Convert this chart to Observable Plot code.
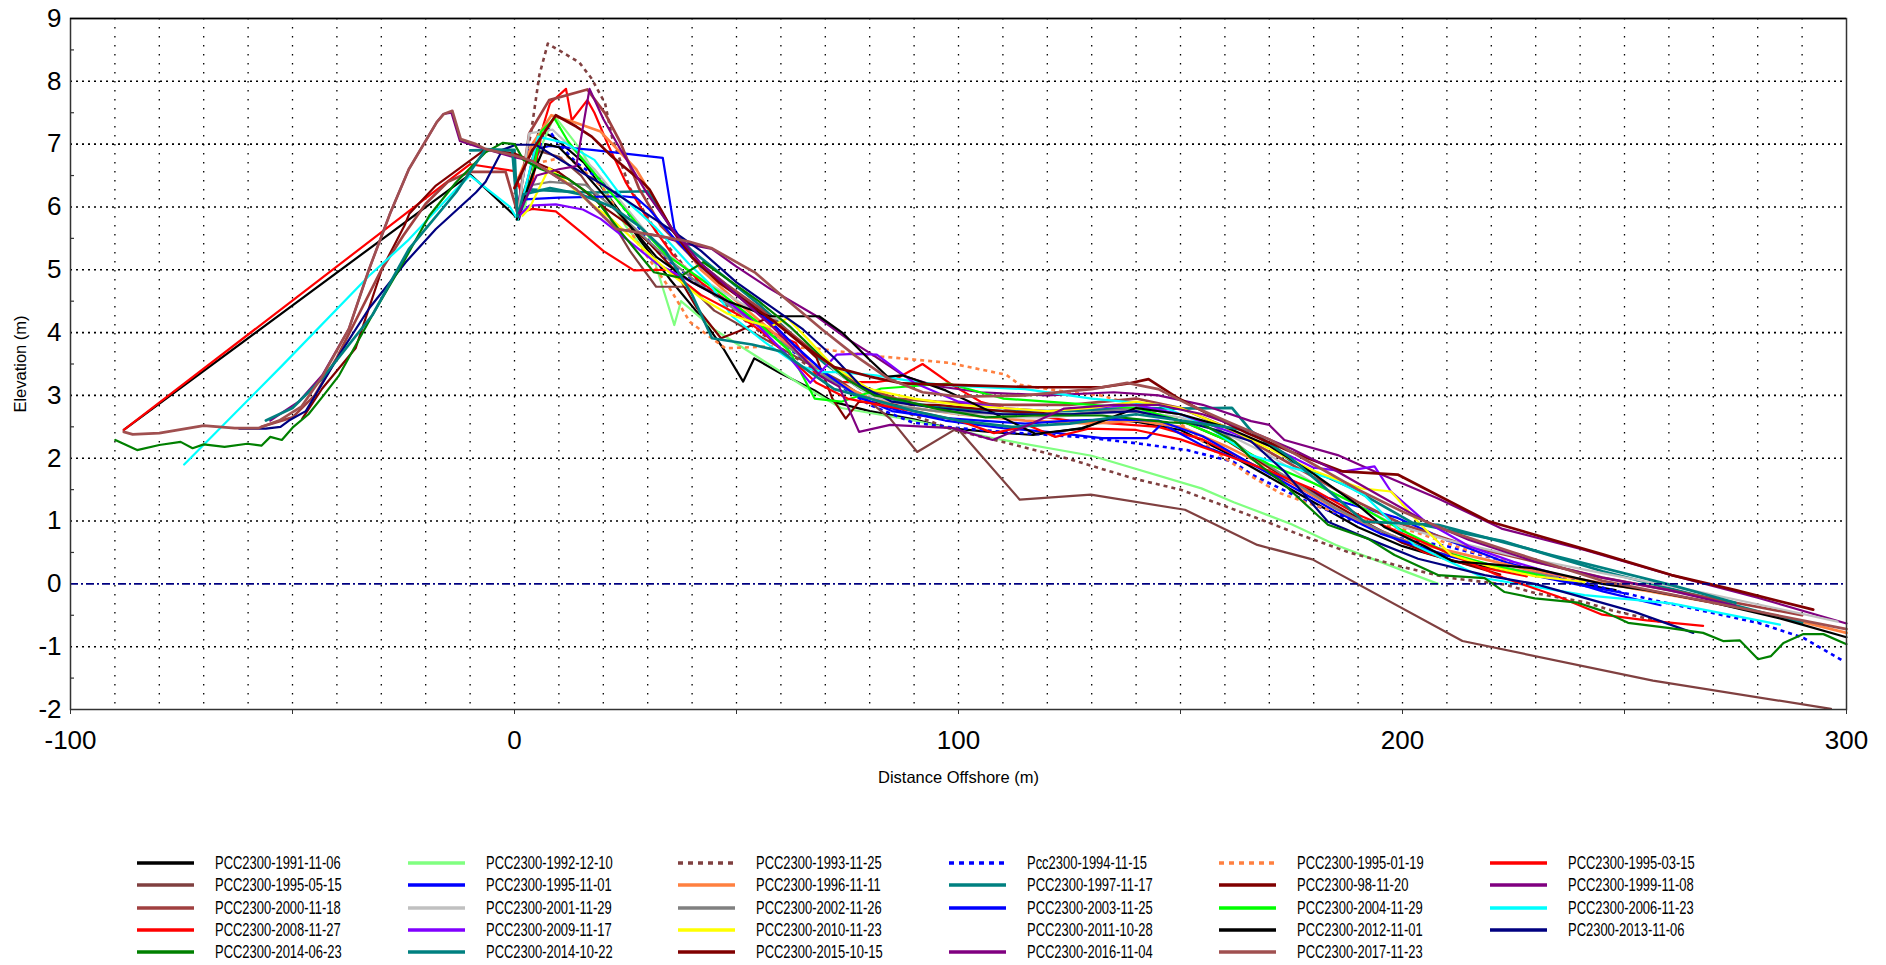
<!DOCTYPE html>
<html>
<head>
<meta charset="utf-8">
<script src="https://cdn.jsdelivr.net/npm/d3@7"></script>
<script src="https://cdn.jsdelivr.net/npm/@observablehq/plot@0.6"></script>
<style>
  body { margin: 0; background: #fff; font-family: "Liberation Sans", Arial, sans-serif; }
  #chart { position: absolute; left: 0; top: 0; }
  #legend { position: absolute; left: 137px; top: 852px; display: grid; grid-template-columns: repeat(6, 270.6px); grid-auto-rows: 22.25px; }
  .item { display: flex; align-items: center; font-size: 18.5px; color: #000; white-space: nowrap; }
  .item svg { margin-right: 21px; flex: none; }
  .item span { display: inline-block; transform: scaleX(0.70); transform-origin: left center; }
</style>
</head>
<body>
<div id="chart"></div>
<div id="legend"></div>
<script>
// ---------------- DATA ----------------
const seriesNames = [
  "PCC2300-1991-11-06", "PCC2300-1992-12-10", "PCC2300-1993-11-25", "Pcc2300-1994-11-15", "PCC2300-1995-01-19", "PCC2300-1995-03-15",
  "PCC2300-1995-05-15", "PCC2300-1995-11-01", "PCC2300-1996-11-11", "PCC2300-1997-11-17", "PCC2300-98-11-20", "PCC2300-1999-11-08",
  "PCC2300-2000-11-18", "PCC2300-2001-11-29", "PCC2300-2002-11-26", "PCC2300-2003-11-25", "PCC2300-2004-11-29", "PCC2300-2006-11-23",
  "PCC2300-2008-11-27", "PCC2300-2009-11-17", "PCC2300-2010-11-23", "PCC2300-2011-10-28", "PCC2300-2012-11-01", "PC2300-2013-11-06",
  "PCC2300-2014-06-23", "PCC2300-2014-10-22", "PCC2300-2015-10-15", "PCC2300-2016-11-04", "PCC2300-2017-11-23"
];

const xTickLabels = [-100, 0, 100, 200, 300];
const xTickMarks = [-100, -50, 0, 50, 100, 150, 200, 250, 300];
const yTickLabels = [-2, -1, 0, 1, 2, 3, 4, 5, 6, 7, 8, 9];
const yMinorTicks = [-1.5, -0.5, 0.5, 1.5, 2.5, 3.5, 4.5, 5.5, 6.5, 7.5, 8.5];
const xGridLines = [-90, -80, -70, -60, -50, -40, -30, -20, -10, 0, 10, 20, 30, 40, 50, 60, 70, 80, 90, 100, 110, 120, 130, 140, 150, 160, 170, 180, 190, 200, 210, 220, 230, 240, 250, 260, 270, 280, 290];
const yGridLines = [-1, 1, 2, 3, 4, 5, 6, 7, 8];
const datumLevel = [0];

// profiles: [distance offshore (m), elevation (m)]
const p1991_11_06 = [[-88,2.45],[-10,6.52],[1,5.8],[5.5,7.22],[9,7.1],[15.7,6.7],[20,6.28],[24,5.9],[28.5,5.45],[35,4.85],[42,4.25],[47,3.75],[51.5,3.22],[54,3.59],[60,3.35],[67.6,3.08],[71.6,2.9],[80,2.75],[90,2.62],[97.7,2.48],[107,2.42],[116.8,2.37],[127.8,2.48],[134,2.63],[140,2.58],[150,2.45],[160,2.1],[170,1.7],[180,1.3],[190,0.9],[200,0.6],[212,0.35],[225,0.2],[240,0.0],[248,-0.1]];
const p1992_12_10 = [[2,5.9],[5,6.8],[9,7.45],[15,6.9],[20,6.3],[25,5.7],[31.7,5.1],[36,4.12],[37.5,4.5],[45,4.05],[55,3.6],[65,3.15],[73.6,2.8],[90,2.6],[107.7,2.32],[130,2.04],[154.7,1.52],[162,1.3],[175,0.95],[185,0.62],[195,0.35],[208,0.0]];
const p1993_11_25 = [[0,6.2],[2,6.6],[3.7,7.17],[5.6,8.1],[7.5,8.6],[11.3,8.44],[14.6,8.3],[17.4,8.04],[20.4,7.65],[22,7.1],[26,6.3],[32,5.6],[40,4.9],[50,4.3],[60,3.75],[70,3.3],[80,2.95],[90,2.68],[99.4,2.44],[110,2.26],[124.8,1.99],[139.8,1.67],[150,1.5],[166,1.08],[177,0.78],[188,0.5],[200,0.27],[210,0.1],[223,-0.01],[230,-0.15],[241,-0.29],[247,-0.42],[258,-0.6]];
const p1994_11_15 = [[1,6.0],[4,6.5],[7,7.3],[10,7.0],[14,6.7],[20,6.4],[25,5.95],[32,5.3],[40,4.85],[50,4.4],[60,3.85],[70,3.3],[80,2.85],[89.6,2.57],[97,2.5],[110,2.42],[129,2.33],[141,2.23],[151.5,2.13],[162,1.94],[166,1.74],[180,1.26],[199,0.73],[210,0.6],[220.3,0.41],[232,0.2],[245,-0.06],[256,-0.25],[267.7,-0.43],[280,-0.62],[290.3,-0.86],[299.3,-1.23]];
const p1995_01_19 = [[1,6.1],[5,6.7],[12,6.8],[20,6.3],[28,5.4],[35,4.7],[39.5,4.17],[47.5,3.75],[57.5,3.78],[67.6,3.75],[82.6,3.62],[97.7,3.52],[110.7,3.33],[113.8,3.17],[125,3.05],[132,3.0],[142,2.8],[150,2.55],[158,2.1],[166,1.71],[172.6,1.44],[181,1.23],[192,1.0],[202.7,0.83],[214,0.55],[226,0.3],[238,0.05]];
const p1995_03_15 = [[-88,2.45],[-10,6.68],[0,6.57],[2,6.1],[4,6.4],[6.5,7.3],[8,7.65],[11.6,7.88],[12.9,7.38],[16.4,7.7],[18,7.5],[21,7.0],[25,6.4],[30,5.8],[36,5.2],[42,4.8],[50,4.4],[58,4.0],[63.3,3.84],[67.8,3.34],[73.1,3.21],[81.4,3.21],[85.9,3.26],[91.9,3.5],[98.7,3.16],[105,2.9],[115,2.7],[125,2.6],[135,2.55],[145,2.5],[155,2.3],[165,1.95],[175,1.6],[185,1.2],[195,0.85],[205,0.5],[215,0.3],[228,0.12]];
const p1995_05_15 = [[1,6.0],[5,6.9],[10,6.8],[15,6.5],[20,6.0],[26,5.3],[31.9,4.73],[39.5,4.73],[45,4.35],[55,3.95],[65,3.55],[73.6,3.22],[80,2.9],[84.6,2.63],[90.7,2.1],[99.7,2.48],[113.8,1.34],[129.8,1.42],[151,1.18],[167.3,0.62],[179.7,0.39],[213.5,-0.91],[256.4,-1.54],[296.5,-1.99]];
const p1995_11_01 = [[1,6.1],[3,6.9],[8,6.97],[17.4,6.91],[33.4,6.78],[36,5.65],[40,5.2],[48,4.75],[56,4.3],[63,3.8],[70,3.35],[78,2.95],[87,2.75],[97,2.6],[110,2.48],[120,2.42],[132.3,2.32],[142.5,2.32],[145.8,2.55],[155,2.2],[166.1,1.9],[183.1,1.37],[198.9,1.05],[210,0.7],[222.6,0.36],[235,0.1],[245.1,-0.12],[258.1,-0.34]];
const p1996_11_11 = [[0,6.3],[4,7.0],[8.3,7.46],[13,7.36],[19.4,7.2],[27.4,6.6],[35.4,5.65],[42,5.0],[50,4.5],[60,3.9],[70,3.3],[80,2.95],[90,2.8],[100,2.7],[115,2.6],[130,2.55],[140,2.6],[150,2.5],[160,2.2],[170,1.85],[180,1.4],[190,1.0],[200,0.7],[215,0.45],[230,0.2],[250,-0.05],[270,-0.3],[285,-0.52],[300,-0.78]];
const p1997_11_17 = [[-10,6.9],[0,6.91],[0.7,5.8],[3.3,6.28],[10,6.25],[17.4,6.23],[29.9,6.25],[35.9,5.6],[40,5.3],[48,4.85],[55,4.45],[62,4.0],[70,3.5],[78,3.1],[87,2.9],[97,2.8],[110,2.75],[125,2.75],[140,2.8],[149.2,2.79],[161.6,2.8],[166.1,2.42],[175,1.95],[188.7,1.52],[202.3,0.97],[222.6,0.68],[245.1,0.2],[270,-0.25],[290,-0.62]];
const p1998_11_20 = [[-47.8,2.63],[-43.3,3.11],[-35.8,3.75],[-29.8,5.02],[-24.8,5.7],[-23.7,5.89],[-17.7,6.34],[-6.5,6.92],[0,6.85],[5,6.7],[10,6.55],[15,6.3],[20,6.0],[25,5.75],[30,5.45],[36,5.0],[41,4.4],[46.5,3.91],[50.5,4.02],[57.5,4.25],[62,4.0],[68,3.6],[71.6,2.95],[74.6,2.63],[77.6,2.9],[86,2.85],[95,2.85],[110,2.75],[125,2.7],[140,2.75],[150,2.6],[160,2.3],[170,1.85],[180,1.45],[190,1.05],[200,0.65],[210,0.4],[222,0.15]];
const p1999_11_08 = [[-55,2.6],[-48.6,2.9],[-43.3,3.32],[-37.3,4.06],[-32.8,5.0],[-28,5.9],[-23.8,6.6],[-17.5,7.35],[-16,7.48],[-14.2,7.5],[-12.3,7.05],[-8,6.95],[-0.5,6.8],[4,6.73],[13.9,6.28],[22.9,5.65],[27.4,5.6],[32.4,5.54],[39.5,5.4],[44.5,5.33],[50,5.05],[57.5,4.7],[67.6,4.28],[75,3.9],[80.6,3.65],[88,3.3],[95,3.15],[105,3.05],[120,3.0],[135,3.05],[145,3.0],[155,2.85],[165.9,2.59],[170,2.53],[173.4,2.29],[185.4,2.05],[195,1.75],[208,1.36],[222.3,0.88],[241,0.54],[260.6,0.14],[280,-0.22],[300,-0.63]];
const p2000_11_18 = [[-57,2.5],[-50,2.65],[-45,3.0],[-40,3.6],[-35,4.3],[-30,5.0],[-25,5.55],[-20,6.05],[-15,6.4],[-10,6.56],[-2,6.56],[0.7,5.9],[3.3,7.17],[7.8,7.7],[16.4,7.87],[20.4,7.49],[23.9,7.02],[28,6.3],[33,5.7],[40,5.2],[48,4.75],[55,4.4],[62,4.0],[70,3.55],[78,3.15],[86,2.95],[95,2.9],[110,2.85],[125,2.85],[140,2.95],[150,2.8],[160,2.5],[170,2.1],[180,1.7],[190,1.3],[200,0.95],[215,0.6],[230,0.35],[245,0.1],[260,-0.1],[275,-0.3],[290,-0.5]];
const p2001_11_29 = [[1,6.0],[3.3,7.17],[8.6,7.23],[12,7.0],[18,6.6],[25,6.0],[32,5.4],[40,4.95],[48,4.6],[55,4.3],[60,4.2],[65,3.9],[72,3.4],[80,3.0],[90,2.8],[100,2.7],[110,2.65],[120,2.65],[130,2.7],[140,2.75],[150,2.65],[160,2.4],[170,2.05],[180,1.6],[190,1.25],[198,0.95],[210,0.7],[225,0.45],[245,0.17],[265,-0.1],[285,-0.4],[298,-0.6]];
const p2002_11_26 = [[1,5.9],[4,6.35],[8,6.4],[16,6.35],[22,6.0],[28,5.6],[35,5.15],[42,4.75],[50,4.35],[57,4.0],[63,3.7],[70,3.3],[76,3.05],[84,2.85],[95,2.75],[110,2.7],[125,2.7],[140,2.8],[150,2.7],[158,2.5],[165,2.1],[175,1.65],[185,1.2],[195,0.85],[205,0.55],[220,0.3],[235,0.1]];
const p2003_11_25 = [[1,5.85],[2.3,6.12],[10,6.15],[24.4,6.17],[27.4,6.15],[30.4,5.96],[36,5.5],[42,5.05],[50,4.6],[57,4.2],[63,3.8],[70,3.35],[77,3.0],[85,2.75],[95,2.65],[105,2.6],[115,2.55],[125,2.6],[135,2.62],[145,2.6],[155,2.35],[165,1.95],[175,1.55],[185,1.15],[195,0.8],[210,0.45],[225,0.2],[240,-0.02],[250,-0.15]];
const p2004_11_29 = [[0.5,5.85],[4,6.5],[6,7.2],[9,7.41],[12,7.05],[16,6.7],[22,6.2],[28,5.7],[34,5.25],[40,4.95],[47,4.6],[55,4.15],[62,3.7],[67.6,2.95],[73.6,2.9],[82.6,3.11],[97.7,3.19],[110,2.95],[120,2.9],[130,2.85],[140,2.8],[150,2.6],[160,2.3],[170,1.9],[180,1.6],[190,1.25],[200,0.85],[210,0.5],[220,0.3],[232,0.12]];
const p2006_11_23 = [[-74.4,1.9],[-52.4,3.47],[-32.8,4.9],[-23.8,5.48],[-13.3,6.27],[-10,6.5],[-1,6.0],[0.7,5.8],[5.3,7.12],[11.3,7.02],[18,6.75],[24.2,6.16],[31.7,5.68],[39.2,5.1],[43.8,4.79],[49,4.26],[56.5,3.84],[64.1,3.47],[69.3,3.37],[73.1,3.37],[81.4,3.32],[91.9,3.2],[100,3.15],[115,3.1],[130,2.95],[145,2.85],[155,2.55],[165.9,2.05],[175,1.85],[183.9,1.68],[191.4,1.41],[202.7,0.62],[218.5,0.09],[241,-0.18],[260.6,-0.31],[285,-0.65]];
const p2008_11_27 = [[1,5.9],[4,5.97],[9.3,5.93],[15,5.6],[20,5.3],[26.9,4.99],[34.7,5.0],[37,4.87],[42,4.6],[50,4.3],[56,4.0],[62,3.6],[68,3.2],[75,2.95],[82,2.85],[90,2.75],[100,2.6],[108,2.4],[115.8,2.52],[121.8,2.34],[129.3,2.47],[140,2.45],[150,2.3],[160,2.05],[170,1.8],[180,1.5],[190,1.1],[200,0.8],[210,0.5],[222.6,0.1],[235,-0.2],[245,-0.49],[255,-0.58],[267.7,-0.67]];
const p2009_11_17 = [[1,5.85],[3.3,6.02],[9.3,6.04],[15.4,5.96],[19.4,5.81],[25,5.5],[32,5.1],[40,4.8],[48,4.5],[55,4.1],[62,3.6],[66.6,3.2],[72.6,3.65],[76.8,3.66],[81.6,3.65],[84.6,3.49],[90,3.2],[100,2.9],[110,2.8],[120,2.75],[130,2.8],[140,2.85],[150,2.7],[160,2.45],[170,2.2],[180,1.85],[186.9,1.79],[193.7,1.87],[197.4,1.47],[205,1.0],[215,0.6],[225,0.35],[235,0.15]];
const p2010_11_23 = [[1.8,5.86],[3.3,5.97],[7.8,6.62],[10.1,6.49],[16.9,6.07],[22,5.8],[28,5.4],[35,4.95],[42,4.55],[48,4.3],[53.5,4.17],[57.5,4.09],[61.5,4.23],[66,3.9],[72,3.45],[80,3.1],[90,2.95],[100,2.85],[110,2.8],[120,2.75],[130,2.8],[140,2.9],[150,2.8],[160,2.5],[170,2.15],[180,1.8],[190.7,1.52],[197.4,1.47],[204,0.95],[211,0.46],[220,0.27],[230,0.12],[241,0.03]];
const p2011_10_28 = [[0,6.5],[10,6.8],[20,6.2],[40,5.0],[60,4.0],[80,3.0],[100,2.75],[140,2.8],[160,2.4],[200,0.8],[240,0.0]];
const p2012_11_01 = [[0.5,5.8],[4,6.5],[7,7.0],[10,6.95],[15,6.6],[20,6.2],[26,5.7],[32,5.2],[40,4.8],[48,4.5],[57.3,4.26],[68.6,4.26],[73.8,4.0],[79.8,3.58],[84,3.3],[87.4,3.32],[97.1,3.08],[107.6,2.73],[117.3,2.39],[127.8,2.47],[133.8,2.63],[140,2.8],[150,2.7],[160,2.5],[170,2.2],[180,1.75],[190,1.25],[196,0.9],[205,0.6],[211.3,0.36],[220.3,0.31],[229.3,0.25],[245,0.0],[255,-0.1],[270,-0.3],[285,-0.55],[300,-0.85]];
const p2013_11_06 = [[-62,2.47],[-56,2.47],[-52.7,2.5],[-50.8,2.6],[-47,2.75],[-39.5,3.64],[-32.8,4.38],[-24.5,5.12],[-17.7,5.65],[-8.7,6.23],[-6.5,6.4],[-2.7,6.91],[0.3,6.99],[4.8,6.99],[10.3,6.75],[20,6.35],[27.4,6.0],[36,5.6],[42,5.3],[50,4.8],[58,4.4],[65,4.05],[72,3.6],[78,3.15],[85,2.9],[95,2.8],[110,2.7],[125,2.7],[140,2.75],[150,2.6],[158,2.45],[165.9,2.27],[173.4,1.79],[183.2,0.99],[192.2,0.72],[203.5,0.4],[218.5,0.14],[229.8,0.0],[252.4,-0.45],[265.5,-0.78]];
const p2014_06_23 = [[-89.9,2.29],[-85,2.13],[-80,2.21],[-75.2,2.26],[-72.5,2.16],[-70,2.22],[-65.3,2.18],[-60.2,2.23],[-57,2.2],[-55,2.34],[-52.4,2.29],[-49.8,2.5],[-46.4,2.7],[-43,3.0],[-39.5,3.32],[-32,4.28],[-24.8,5.15],[-19.2,5.86],[-13.2,6.39],[-6.5,6.87],[-2.7,7.02],[0,7.0],[2,6.75],[6,6.6],[12,6.45],[18,6.15],[24.2,5.58],[31.4,4.96],[37,4.88],[42.5,5.12],[48,4.85],[55,4.5],[62,4.1],[69.3,3.6],[75,3.25],[81,3.0],[87.4,2.92],[94.9,2.79],[106.1,2.65],[117.3,2.68],[132.3,2.68],[147.3,2.57],[154.8,2.55],[162.3,2.26],[165.9,2.0],[172.6,1.63],[183.2,0.94],[192.2,0.72],[198.2,0.46],[208,0.14],[218.5,0.09],[223,-0.13],[229.8,-0.23],[239.5,-0.3],[245,-0.43],[250.8,-0.62],[259.8,-0.7],[267.7,-0.78],[272.2,-0.91],[276,-0.9],[280.1,-1.2],[283,-1.15],[285.8,-0.94],[290.3,-0.8],[294.8,-0.8],[300,-0.96]];
const p2014_10_22 = [[-56,2.6],[-50,2.8],[-43.3,3.27],[-32,4.28],[-23.8,5.33],[-13.2,6.23],[-6.5,6.92],[-0.5,6.9],[0.7,5.85],[2,6.2],[8,6.3],[15,6.2],[22,6.0],[28,5.7],[34,5.3],[40,4.6],[44.5,3.91],[53.5,3.81],[60,3.7],[66,3.4],[72,3.1],[80,2.95],[90,2.75],[100,2.6],[112,2.5],[125,2.55],[140,2.7],[150,2.6],[160,2.5],[165.9,2.43],[174.9,2.0],[191.4,0.99],[208,0.94],[233.5,0.46],[260.6,-0.02],[275,-0.3]];
const p2015_10_15 = [[0,6.3],[4,6.9],[9.3,7.46],[13.9,7.28],[17.4,7.12],[22,6.8],[28.9,6.39],[30.4,6.28],[35.4,5.65],[40,5.2],[46,4.8],[52,4.5],[58,4.2],[65,3.8],[72,3.45],[80,3.3],[87.4,3.19],[102.4,3.16],[117.3,3.13],[132.3,3.13],[138.3,3.19],[142.8,3.26],[149.6,2.95],[155,2.75],[165,2.4],[175,2.1],[186.5,1.79],[198.9,1.74],[219.2,1.0],[245.1,0.47],[260.6,0.14],[275,-0.1],[292.5,-0.41]];
const p2016_11_04 = [[1,5.9],[5,6.5],[10,6.6],[13.9,6.65],[16.9,7.88],[20,7.4],[24,6.9],[30,6.2],[36,5.6],[42,5.1],[50,4.6],[58,4.1],[65,3.6],[69,3.3],[73.1,3.14],[77.6,2.42],[84.6,2.53],[98.7,2.48],[107.7,2.29],[115.8,2.53],[123.8,2.79],[135,2.85],[145,2.85],[155,2.7],[165,2.45],[175,2.15],[185,1.8],[195,1.4],[205,1.0],[215,0.7],[230,0.35],[245,0.1],[260,-0.1],[275,-0.35]];
const p2017_11_23 = [[-88,2.42],[-86,2.38],[-80,2.4],[-70,2.52],[-63,2.48],[-57.6,2.48],[-53,2.6],[-48,2.82],[-43.3,3.3],[-37.3,4.06],[-32.8,5.0],[-28,5.9],[-23.8,6.6],[-17.5,7.35],[-15.9,7.48],[-14,7.53],[-12.1,7.08],[-8.7,7.0],[-6.5,6.92],[0,6.82],[4,6.73],[13.9,6.28],[22.9,5.65],[27.4,5.6],[32.4,5.54],[39.2,5.45],[44.5,5.34],[54.3,4.95],[59.5,4.63],[69.3,4.05],[76.8,3.63],[84.4,3.26],[91.9,3.05],[100,2.98],[115,3.0],[130,3.1],[138,3.2],[145,3.1],[152,2.85],[160,2.6],[170,2.3],[180,1.9],[190,1.5],[200,1.15],[210,0.85],[225,0.5],[245,0.05],[270,-0.3],[300,-0.72]];

const profiles = [
  p1991_11_06, p1992_12_10, p1993_11_25, p1994_11_15, p1995_01_19, p1995_03_15,
  p1995_05_15, p1995_11_01, p1996_11_11, p1997_11_17, p1998_11_20, p1999_11_08,
  p2000_11_18, p2001_11_29, p2002_11_26, p2003_11_25, p2004_11_29, p2006_11_23,
  p2008_11_27, p2009_11_17, p2010_11_23, p2011_10_28, p2012_11_01, p2013_11_06,
  p2014_06_23, p2014_10_22, p2015_10_15, p2016_11_04, p2017_11_23
];

// ---------------- STYLES ----------------
const lineColors = [
  "#000000", "#80FF80", "#804040", "#0000FF", "#FF8040", "#FF0000",
  "#804040", "#0000FF", "#FF8040", "#008080", "#800000", "#800080",
  "#A04040", "#C0C0C0", "#808080", "#0000FF", "#00FF00", "#00FFFF",
  "#FF0000", "#8000FF", "#FFFF00", "#FFFFFF", "#000000", "#000080",
  "#008000", "#008080", "#800000", "#800080", "#A05050"
];
const dottedSet = new Set([2, 3, 4]);
const thickSet = new Set([8, 12, 26, 28, 9, 25]);

// ---------------- BUILD ----------------
const rows = seriesNames.flatMap((name, i) => profiles[i].map(([x, y]) => ({ series: name, idx: i, x, y })));
const drawOrder = [21, ...seriesNames.map((_, i) => i).filter(i => i !== 21)];

const lineMarks = drawOrder.map(i => Plot.line(rows.filter(r => r.idx === i), {
  x: "x", y: "y",
  stroke: lineColors[i],
  strokeWidth: dottedSet.has(i) ? 2.6 : (thickSet.has(i) ? 2.7 : 2.2),
  strokeDasharray: dottedSet.has(i) ? "4,4" : null,
  strokeLinejoin: "round",
  strokeLinecap: dottedSet.has(i) ? "butt" : "round"
}));

const chart = Plot.plot({
  width: 1886,
  height: 800,
  marginLeft: 70,
  marginRight: 40,
  marginTop: 18,
  marginBottom: 91,
  style: { fontFamily: '"Liberation Sans", Arial, sans-serif', fontSize: "26px", background: "#fff", color: "#000" },
  x: { domain: [-100, 300] },
  y: { domain: [-2, 9] },
  marks: [
    Plot.ruleX(xGridLines, { stroke: "#000", strokeDasharray: "1.5,7.5", strokeWidth: 1.3 }),
    Plot.ruleY(yGridLines, { stroke: "#000", strokeDasharray: "2,4", strokeWidth: 1.6 }),
    ...lineMarks,
    Plot.ruleY(datumLevel, { stroke: "#000080", strokeDasharray: "8,3,2,3", strokeWidth: 1.6 }),
    Plot.ruleY(yMinorTicks, { x1: -100, x2: -99.1, stroke: "#333", strokeWidth: 1.2 }),
    Plot.frame({ stroke: "#333", strokeWidth: 1.5 }),
    Plot.ruleY([9], { stroke: "#000", strokeWidth: 1.5 }),
    Plot.axisX({ ticks: xTickMarks, tickSize: 5, tickPadding: 16, tickFormat: d => xTickLabels.includes(d) ? String(d) : "", label: null, stroke: "#333" }),
    Plot.axisY({ ticks: yTickLabels, tickSize: 0, tickPadding: 9, tickFormat: d => String(d), label: null }),
    Plot.text(["Distance Offshore (m)"], { text: d => d, frameAnchor: "bottom", dy: 68, lineAnchor: "middle", textAnchor: "middle", fontSize: 16.5 }),
    Plot.text(["Elevation (m)"], { text: d => d, frameAnchor: "left", dx: -50, rotate: -90, lineAnchor: "middle", textAnchor: "middle", fontSize: 16.5 })
  ]
});
document.getElementById("chart").appendChild(chart);

// ---------------- LEGEND ----------------
const legend = document.getElementById("legend");
seriesNames.forEach((name, i) => {
  const item = document.createElement("div");
  item.className = "item";
  const dash = dottedSet.has(i) ? ' stroke-dasharray="5,5"' : "";
  item.innerHTML = `<svg width="57" height="8"><line x1="0" y1="4" x2="57" y2="4" stroke="${lineColors[i]}" stroke-width="3.5"${dash}/></svg><span>${name}</span>`;
  legend.appendChild(item);
});
</script>
</body>
</html>
